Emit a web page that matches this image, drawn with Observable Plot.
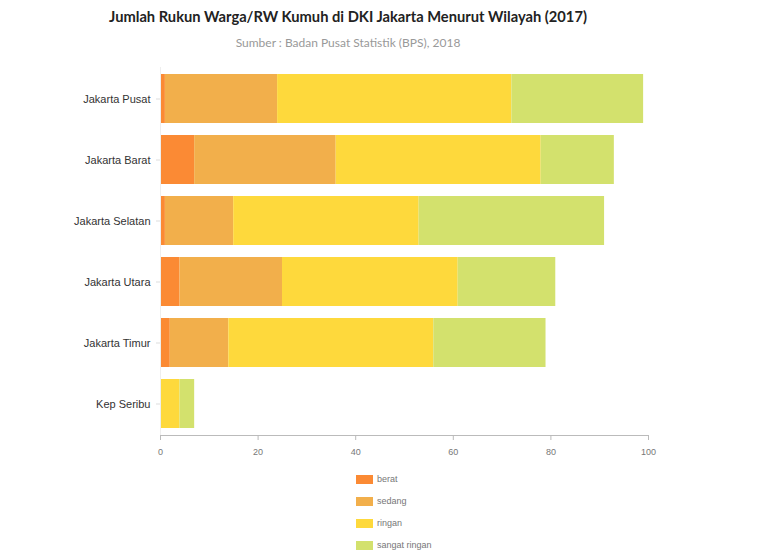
<!DOCTYPE html>
<html>
<head>
<meta charset="utf-8">
<script src="https://cdn.jsdelivr.net/npm/d3@7"></script>
<script src="https://cdn.jsdelivr.net/npm/@observablehq/plot@0.6"></script>
<style>
  body { margin: 0; background: #fff; font-family: "Noto Sans", "Liberation Sans", sans-serif; }
  #wrap { position: relative; width: 770px; height: 558px; }
  #title { position: absolute; top: 7px; left: 48px; width: 600px; text-align: center; font-family: Lato, "Noto Sans", sans-serif; font-weight: 700; font-size: 14.7px; color: #222; }
  #subtitle { position: absolute; top: 35px; left: 48px; width: 600px; text-align: center; font-family: Lato, "Noto Sans", sans-serif; font-size: 12px; color: #999; }
  #chart { position: absolute; top: 58px; left: 0; }
  #legend { position: absolute; top: 468px; left: 356px; font-family: "Liberation Sans", sans-serif; font-size: 9px; color: #777; }
  .item { display: flex; align-items: center; height: 22px; }
  .sw { width: 17px; height: 9px; margin-right: 4px; }
</style>
</head>
<body>
<div id="wrap">
  <div id="title">Jumlah Rukun Warga/RW Kumuh di DKI Jakarta Menurut Wilayah (2017)</div>
  <div id="subtitle">Sumber : Badan Pusat Statistik (BPS), 2018</div>
  <div id="chart"></div>
  <div id="legend"></div>
</div>
<script>
const regions = ["Jakarta Pusat", "Jakarta Barat", "Jakarta Selatan", "Jakarta Utara", "Jakarta Timur", "Kep Seribu"];
const categories = ["berat", "sedang", "ringan", "sangat ringan"];
const colors = ["#fb8a34", "#f2af4b", "#fed93c", "#d3e16d"];
const berat = [1, 7, 1, 4, 2, 0];
const sedang = [23, 29, 14, 21, 12, 0];
const ringan = [48, 42, 38, 36, 42, 4];
const sangatRingan = [27, 15, 38, 20, 23, 3];
const xTicks = [0, 20, 40, 60, 80, 100];

const series = [berat, sedang, ringan, sangatRingan];
const data = [];
regions.forEach((r, i) => {
  categories.forEach((c, j) => {
    data.push({ region: r, kategori: c, nilai: series[j][i] });
  });
});

const plot = Plot.plot({
  width: 770,
  height: 407,
  marginLeft: 160,
  marginRight: 122,
  marginTop: 9,
  marginBottom: 30,
  style: { fontFamily: "'Liberation Sans', sans-serif", background: "transparent" },
  x: { domain: [0, 100], ticks: xTicks },
  y: { domain: regions, paddingInner: 0.2, paddingOuter: 0.1, label: null },
  color: { domain: categories, range: colors },
  marks: [
    Plot.barX(data, { y: "region", x: "nilai", fill: "kategori", order: categories }),
    Plot.frame({ anchor: "left", stroke: "#eee" }),
    Plot.frame({ anchor: "bottom", stroke: "#bbb" }),
    Plot.axisX({ ticks: xTicks, tickSize: 5, tickPadding: 8, stroke: "#bbb", color: "#777", fontSize: 9, label: null }),
    Plot.axisY({ tickSize: 4, tickPadding: 6, stroke: "#ddd", color: "#333", fontSize: 11, label: null })
  ]
});
document.getElementById("chart").appendChild(plot);

const legend = document.getElementById("legend");
categories.forEach((c, i) => {
  const item = document.createElement("div");
  item.className = "item";
  const sw = document.createElement("div");
  sw.className = "sw";
  sw.style.background = colors[i];
  const lab = document.createElement("span");
  lab.textContent = c;
  item.appendChild(sw);
  item.appendChild(lab);
  legend.appendChild(item);
});
</script>
</body>
</html>
